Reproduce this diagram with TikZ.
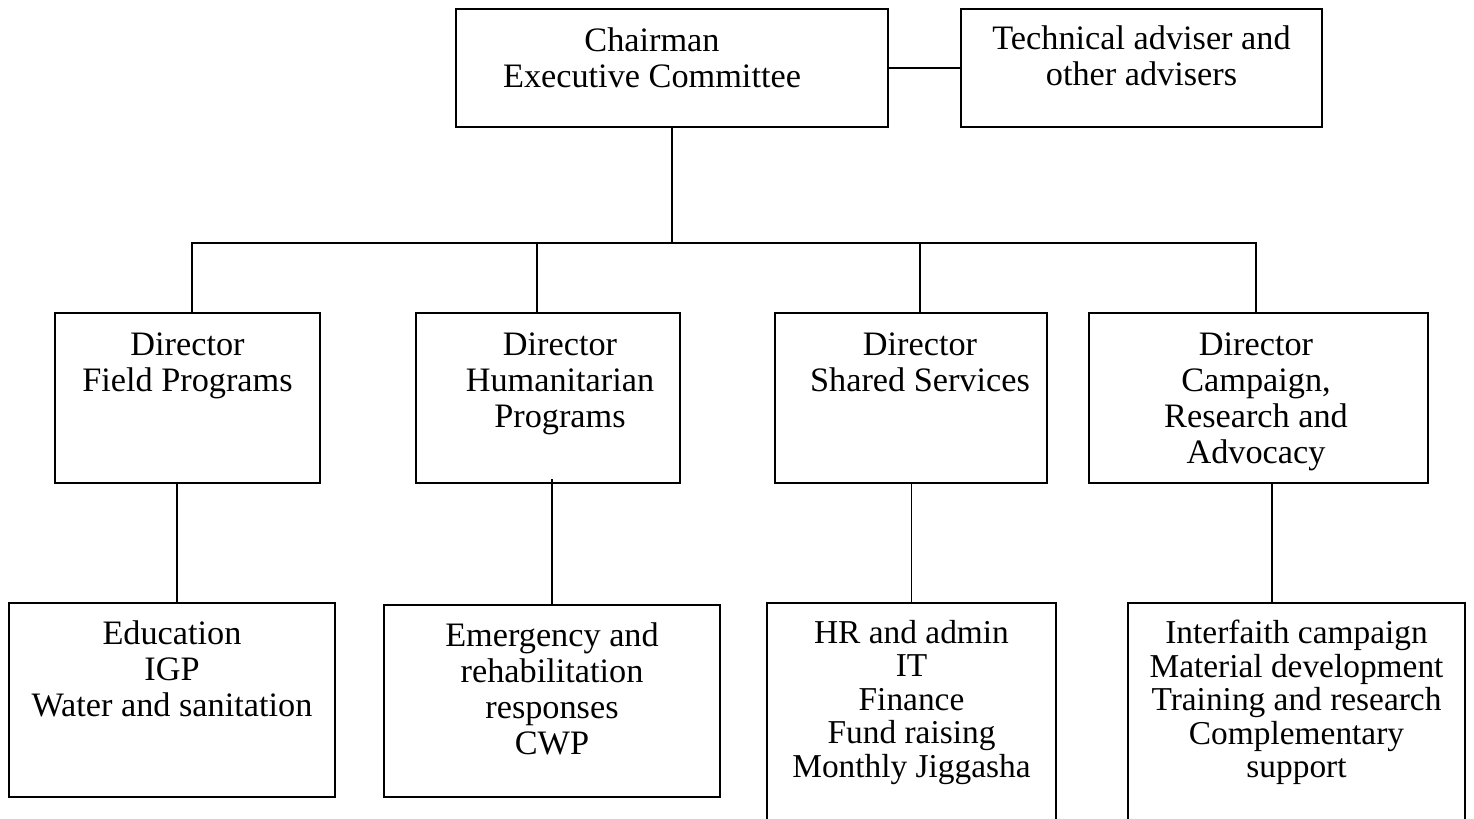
\documentclass[tikz,border=0pt]{standalone}
\usepackage{fontspec}
\setmainfont{Liberation Serif}
\usetikzlibrary{positioning}

\begin{document}
\begin{tikzpicture}[
    unit/.style={draw, line width=1.1pt, inner sep=0pt},
    caption/.style={inner sep=0pt, align=center, font=\fontsize{19.5}{20.5}\selectfont},
    tightcaption/.style={caption, font=\fontsize{19}{19}\selectfont},
    link/.style={line width=1.1pt}
]
    \clip (0,0) rectangle (29.48,-16.38);

    % chairman and advisers
    \node[unit, minimum width=8.64cm, minimum height=2.36cm] (chair) at (13.44,-1.36) {};
    \node[caption, below=0.38cm of chair.north, xshift=-0.4cm] (chairtext) {Chairman\\Executive Committee};
    \node[unit, minimum width=7.22cm, minimum height=2.36cm] (advisers) at (22.83,-1.36) {};
    \node[caption, below=0.34cm of advisers.north] (advtext) {Technical adviser and\\other advisers};
    \draw [link] (chair.east) -- (chair.east -| advisers.west);

    % directors
    \node[unit, minimum width=5.30cm, minimum height=3.4cm] (field) at (3.75,-7.96) {};
    \node[caption, below=0.4cm of field.north] (fieldtext) {Director\\Field Programs};
    \node[unit, minimum width=5.28cm, minimum height=3.4cm] (human) at (10.96,-7.96) {};
    \node[caption, below=0.4cm of human.north, xshift=0.24cm] (humantext) {Director\\Humanitarian\\Programs};
    \node[unit, minimum width=5.44cm, minimum height=3.4cm] (shared) at (18.22,-7.96) {};
    \node[caption, below=0.4cm of shared.north, xshift=0.18cm] (sharedtext) {Director\\Shared Services};
    \node[unit, minimum width=6.78cm, minimum height=3.4cm] (campaign) at (25.17,-7.96) {};
    \node[caption, below=0.4cm of campaign.north, xshift=-0.05cm] (camptext) {Director\\Campaign,\\Research and\\Advocacy};

    % bus from chairman to directors
    \coordinate (bus) at (13.44,-4.86);
    \draw [link] (chair.south) -- (bus);
    \draw [link] ([xshift=0.09cm]field.north) |- (bus) -| ([xshift=-0.05cm]campaign.north);
    \draw [link] ([xshift=-0.22cm]human.north) |- (bus);
    \draw [link] ([xshift=0.18cm]shared.north) |- (bus);

    % units under each director
    \node[unit, minimum width=6.52cm, minimum height=3.88cm] (edu) at (3.44,-14.0) {};
    \node[caption, below=0.36cm of edu.north] (edutext) {Education\\IGP\\Water and sanitation};
    \node[unit, minimum width=6.72cm, minimum height=3.84cm] (emerg) at (11.04,-14.02) {};
    \node[caption, below=0.36cm of emerg.north] (emergtext) {Emergency and\\rehabilitation\\responses\\CWP};
    \node[unit, minimum width=5.78cm, minimum height=5.0cm] (admin) at (18.23,-14.56) {};
    \node[tightcaption, below=0.36cm of admin.north] (admintext) {HR and admin\\IT\\Finance\\Fund raising\\Monthly Jiggasha};
    \node[unit, minimum width=6.74cm, minimum height=5.0cm] (faith) at (25.93,-14.56) {};
    \node[tightcaption, below=0.36cm of faith.north] (faithtext) {Interfaith campaign\\Material development\\Training and research\\Complementary\\support};

    % director to unit lines
    \draw [link] ([xshift=0.10cm]edu.north) -- ([xshift=0.10cm]edu.north |- field.south);
    \draw [link] (emerg.north) -- ([yshift=0.1cm]emerg.north |- human.south);
    \draw [link] (admin.north) -- (admin.north |- shared.south);
    \draw [link] ([xshift=-0.49cm]faith.north) -- ([xshift=-0.49cm]faith.north |- campaign.south);
\end{tikzpicture}
\end{document}
